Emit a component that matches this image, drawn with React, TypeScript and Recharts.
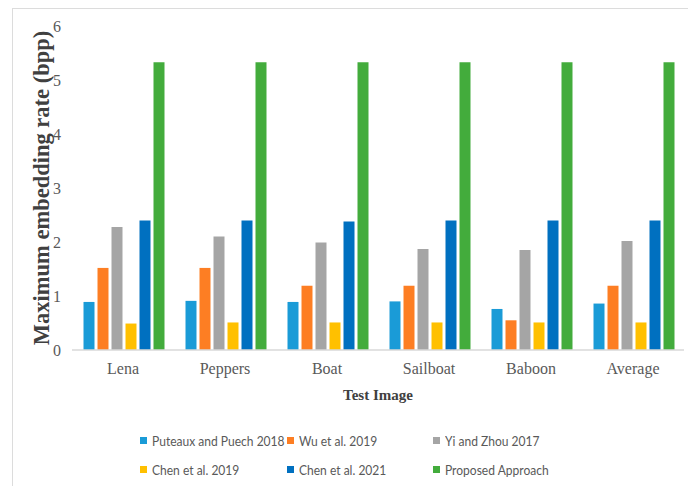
import React from "react";
import { Bar, BarChart, XAxis, YAxis } from "recharts";

const images = ["Lena", "Peppers", "Boat", "Sailboat", "Baboon", "Average"];

const puteaux2018 = [0.89, 0.91, 0.89, 0.9, 0.76, 0.86];
const wu2019 = [1.52, 1.52, 1.19, 1.19, 0.55, 1.19];
const yiZhou2017 = [2.28, 2.1, 1.99, 1.87, 1.85, 2.02];
const chen2019 = [0.49, 0.51, 0.51, 0.51, 0.51, 0.51];
const chen2021 = [2.4, 2.4, 2.38, 2.4, 2.4, 2.4];
const proposed = [5.33, 5.33, 5.33, 5.33, 5.33, 5.33];

const yTicks = [0, 1, 2, 3, 4, 5, 6];

const series = [
  { key: "puteaux", name: "Puteaux and Puech 2018", color: "#1a9bd7", values: puteaux2018 },
  { key: "wu", name: "Wu et al. 2019", color: "#fd7e23", values: wu2019 },
  { key: "yi", name: "Yi and Zhou 2017", color: "#a5a5a5", values: yiZhou2017 },
  { key: "chen19", name: "Chen et al. 2019", color: "#ffc000", values: chen2019 },
  { key: "chen21", name: "Chen et al. 2021", color: "#0070c0", values: chen2021 },
  { key: "proposed", name: "Proposed Approach", color: "#43ac3c", values: proposed },
];

const data = images.map((image, i) => {
  const row: Record<string, string | number> = { image };
  series.forEach((s) => {
    row[s.key] = s.values[i];
  });
  return row;
});

const serif = "'Liberation Serif', 'Times New Roman', serif";
const legendFont = "Lato, sans-serif";

// legend sits in a 3-column grid under the axis title
const legendCols = [140, 287, 433];
const legendRows = [440, 469];

const App = () => {
  return (
    <div
      style={{
        position: "absolute",
        left: 0,
        top: 0,
        width: 688,
        height: 486,
        overflow: "hidden",
        background: "#fff",
      }}
    >
      <div
        style={{
          position: "absolute",
          left: 12,
          top: 8,
          width: 700,
          height: 500,
          borderLeft: "1px solid #dcdcdc",
          borderTop: "1px solid #dcdcdc",
        }}
      />
      <div style={{ position: "absolute", left: 0, top: 0 }}>
        <BarChart
          width={688}
          height={486}
          data={data}
          margin={{ top: 26, right: 4, left: 12, bottom: 0 }}
          barCategoryGap={11.5}
          barGap={3}
        >
          <XAxis
            dataKey="image"
            height={136}
            tickSize={0}
            tickMargin={13}
            axisLine={{ stroke: "#d9d9d9", strokeWidth: 1.5 }}
            tick={{ fill: "#595959", fontSize: 16, fontFamily: serif }}
            label={(props: any) => {
              const vb = props.viewBox;
              const cx = vb.x + vb.width / 2;
              return (
                <text
                  x={cx}
                  y={vb.y + 45}
                  textAnchor="middle"
                  dominantBaseline="central"
                  fill="#404040"
                  fontFamily={serif}
                  fontWeight="bold"
                  fontSize={15}
                >
                  Test Image
                </text>
              );
            }}
          />
          <YAxis
            width={60}
            domain={[0, 6]}
            ticks={yTicks}
            interval={0}
            tickSize={0}
            tickMargin={11}
            axisLine={false}
            tick={{ fill: "#595959", fontSize: 16, fontFamily: serif }}
            label={(props: any) => {
              const vb = props.viewBox;
              const cx = vb.x + 29;
              const cy = vb.y + vb.height / 2;
              return (
                <text
                  x={cx}
                  y={cy}
                  transform={`rotate(-90 ${cx} ${cy})`}
                  textAnchor="middle"
                  dominantBaseline="central"
                  fill="#404040"
                  fontFamily={serif}
                  fontWeight="bold"
                  fontSize={22.5}
                >
                  Maximum embedding rate (bpp)
                </text>
              );
            }}
          />
          {series.map((s) => (
            <Bar
              key={s.key}
              dataKey={s.key}
              name={s.name}
              fill={s.color}
              isAnimationActive={false}
            />
          ))}
        </BarChart>
      </div>
      {series.map((s, i) => {
        const col = legendCols[i % 3];
        const row = legendRows[Math.floor(i / 3)];
        return (
          <div
            key={s.key}
            style={{
              position: "absolute",
              left: col,
              top: row - 10,
              height: 20,
              display: "flex",
              alignItems: "center",
              whiteSpace: "nowrap",
              fontFamily: legendFont,
              fontSize: 14,
              color: "#595959",
            }}
          >
            <span
              style={{
                display: "inline-block",
                width: 7,
                height: 7,
                background: s.color,
                marginRight: 5,
              }}
            />
            <span
              style={{
                display: "inline-block",
                transform: "scaleX(0.86)",
                transformOrigin: "left center",
              }}
            >
              {s.name}
            </span>
          </div>
        );
      })}
    </div>
  );
};

export default App;
